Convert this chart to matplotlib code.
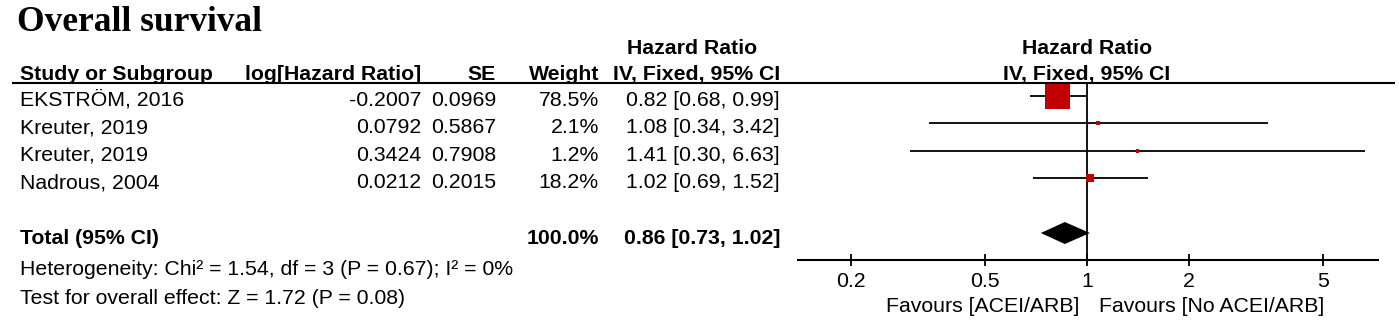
import matplotlib
matplotlib.use('Agg')
import matplotlib.pyplot as plt
import numpy as np

plt.rcParams['font.family'] = 'Liberation Sans'

# data
studies = ['EKSTRÖM, 2016', 'Kreuter, 2019', 'Kreuter, 2019', 'Nadrous, 2004']
log_hr = [-0.2007, 0.0792, 0.3424, 0.0212]
se = [0.0969, 0.5867, 0.7908, 0.2015]
weight = [78.5, 2.1, 1.2, 18.2]
hr = [0.82, 1.08, 1.41, 1.02]
ci_lo = [0.68, 0.34, 0.30, 0.69]
ci_hi = [0.99, 3.42, 6.63, 1.52]
total_w = 100.0
total_hr, total_lo, total_hi = 0.86, 0.73, 1.02
tick_vals = [0.2, 0.5, 1, 2, 5]
tick_labels = ['0.2', '0.5', '1', '2', '5']
axis_range = (0.139, 7.3)
heterogeneity = 'Heterogeneity: Chi² = 1.54, df = 3 (P = 0.67); I² = 0%'
overall = 'Test for overall effect: Z = 1.72 (P = 0.08)'

W, H = 1399, 320
fs = 15.3
fig = plt.figure(figsize=(W / 100, H / 100), dpi=100)

# text layer in pixel units
tx = fig.add_axes([0, 0, 1, 1])
tx.set_xlim(0, W)
tx.set_ylim(H, 0)
tx.axis('off')

# forest layer: log x scale, 1 at px 1087, 338 px per decade
x_one, per_dec = 1087, 338
fx = fig.add_axes([0, 0, 1, 1])
fx.set_xscale('log')
fx.set_xlim(10 ** (-x_one / per_dec), 10 ** ((W - x_one) / per_dec))
fx.set_ylim(H, 0)
fx.axis('off')
fx.patch.set_alpha(0)

rows_y = 96 + 27.4 * np.arange(len(studies))
total_y = 233
axis_y = 260

# title
tx.text(17, 31, 'Overall survival', family='Liberation Serif', weight='bold',
        fontsize=25.5, va='baseline')

# headers
hb = dict(fontsize=fs, weight='bold', va='baseline')
tx.text(692, 54, 'Hazard Ratio', ha='center', **hb)
tx.text(20, 80, 'Study or Subgroup', ha='left', **hb)
tx.text(421, 80, 'log[Hazard Ratio]', ha='right', **hb)
tx.text(496, 80, 'SE', ha='right', **hb)
tx.text(599, 80, 'Weight', ha='right', **hb)
tx.text(780, 80, 'IV, Fixed, 95% CI', ha='right', **hb)
fx.text(1, 54, 'Hazard Ratio', ha='center', **hb)
fx.text(1, 80, 'IV, Fixed, 95% CI', ha='center', **hb)
tx.hlines(83, 12, 1395, color='black', lw=1.5)

# study rows
for i, y in enumerate(rows_y):
    b = y + 10
    tx.text(20, b, studies[i], fontsize=fs, va='baseline')
    tx.text(421, b, f'{log_hr[i]:.4f}', fontsize=fs, ha='right', va='baseline')
    tx.text(496, b, f'{se[i]:.4f}', fontsize=fs, ha='right', va='baseline')
    tx.text(599, b, f'{weight[i]:.1f}%', fontsize=fs, ha='right', va='baseline')
    tx.text(780, b, f'{hr[i]:.2f} [{ci_lo[i]:.2f}, {ci_hi[i]:.2f}]',
            fontsize=fs, ha='right', va='baseline')

fx.hlines(rows_y, ci_lo, ci_hi, color='black', lw=1.3, zorder=2)
side = 3.5 + 21.5 * np.array(weight) / max(weight)
fx.scatter(hr, rows_y, marker='s', s=(side * 0.72) ** 2, color='#c00000',
           linewidths=0, zorder=3)

# total
tb = total_y + 11
tx.text(20, tb, 'Total (95% CI)', **hb)
tx.text(599, tb, f'{total_w:.1f}%', ha='right', **hb)
tx.text(780, tb, f'{total_hr:.2f} [{total_lo:.2f}, {total_hi:.2f}]', ha='right', **hb)
fx.fill([total_lo, total_hr, total_hi, total_hr],
        [total_y, total_y - 11, total_y, total_y + 11], color='black', lw=0, zorder=3)
tx.text(20, 275, heterogeneity, fontsize=fs, va='baseline')
tx.text(20, 304, overall, fontsize=fs, va='baseline')

# null line and axis
fx.vlines(1, 83, axis_y, color='black', lw=1.3)
fx.hlines(axis_y, axis_range[0], axis_range[1], color='black', lw=1.5)
fx.vlines(tick_vals, axis_y - 6, axis_y + 6, color='black', lw=1.3)
for v, lab in zip(tick_vals, tick_labels):
    fx.text(v, 287, lab, fontsize=fs, ha='center', va='baseline')
fx.text(0.947, 312, 'Favours [ACEI/ARB]', fontsize=fs, ha='right', va='baseline')
fx.text(1.085, 312, 'Favours [No ACEI/ARB]', fontsize=fs, ha='left', va='baseline')

fig.savefig('out.png', dpi=100)
